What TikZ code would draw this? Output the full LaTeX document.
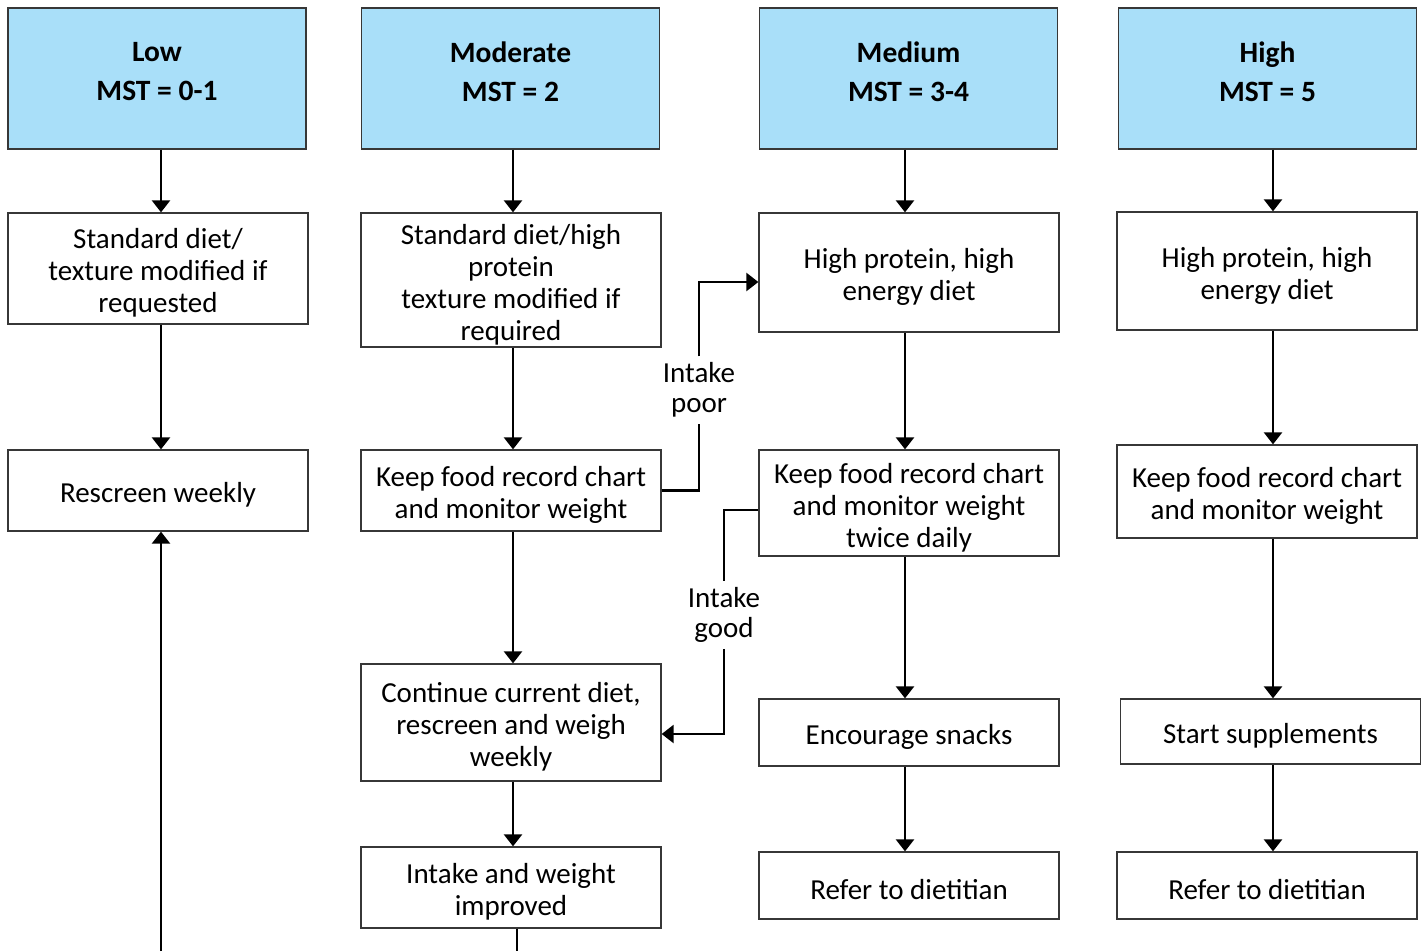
\documentclass[tikz,border=0pt]{standalone}
\usepackage{fontspec}
\setmainfont{Carlito}
\usetikzlibrary{arrows.meta}
\definecolor{hdrblue}{RGB}{169,223,249}
\definecolor{edgegray}{RGB}{55,55,55}
\newcommand{\tup}{\rule{0pt}{29pt}}
\tikzset{
  hdr/.style={draw=edgegray,line width=1.3pt,fill=hdrblue,minimum width=298pt,minimum height=141pt,inner sep=0pt},
  hdrtxt/.style={inner sep=0pt,align=center,font=\fontsize{29.5}{39}\selectfont\bfseries},
  box/.style={draw=edgegray,line width=1.3pt,fill=white,minimum width=300pt,
    inner sep=0pt,align=center,font=\fontsize{29}{32}\selectfont},
  lbl/.style={inner sep=5pt,align=center,font=\fontsize{29}{30}\selectfont}
}
\begin{document}
\begin{tikzpicture}[x=1pt,y=-1pt,line width=2.5pt,>={Stealth[inset=0pt,length=12pt,width=18pt]}]
\useasboundingbox (0,0) rectangle (1421,951);
% risk headers
\node[hdr] (h1) at (157,78.5) {};
\node[hdr] (h2) at (510.5,78.5) {};
\node[hdr] (h3) at (908.5,78.5) {};
\node[hdr] (h4) at (1267.5,78.5) {};
\node[hdrtxt] (h1t) at ([yshift=7pt]h1) {Low\\MST = 0-1};
\node[hdrtxt] (h2t) at ([yshift=7pt]h2) {Moderate\\MST = 2};
\node[hdrtxt] (h3t) at ([yshift=7pt]h3) {Medium\\MST = 3-4};
\node[hdrtxt] (h4t) at ([yshift=7pt]h4) {High\\MST = 5};
% low
\node[box,minimum height=111pt] (a1) at (158,268.5) {\tup Standard diet/\\texture modified if\\requested};
\node[box,minimum height=81pt] (r1) at (158,490.5) {\tup Rescreen weekly};
% moderate
\node[box,minimum height=134pt] (a2) at (511,280) {\tup Standard diet/high\\protein\\texture modified if\\required};
\node[box,minimum height=81pt] (k2) at (511,490.5) {\tup Keep food record chart\\and monitor weight};
\node[box,minimum height=117pt] (c2) at (511,722.5) {\tup Continue current diet,\\rescreen and weigh\\weekly};
\node[box,minimum height=81pt] (i2) at (511,887.5) {\tup Intake and weight\\improved};
% medium
\node[box,minimum height=119pt] (a3) at (909,272.5) {\tup High protein, high\\energy diet};
\node[box,minimum height=106pt] (k3) at (909,503) {\tup Keep food record chart\\and monitor weight\\twice daily};
\node[box,minimum height=67pt] (e3) at (909,732.5) {\tup Encourage snacks};
\node[box,minimum height=67pt] (d3) at (909,885.5) {\tup Refer to dietitian};
% high
\node[box,minimum height=118pt] (a4) at (1267,271) {\tup High protein, high\\energy diet};
\node[box,minimum height=93pt] (k4) at (1267,491.5) {\tup Keep food record chart\\and monitor weight};
\node[box,minimum height=65pt] (s4) at (1270.5,731.5) {\tup Start supplements};
\node[box,minimum height=67pt] (d4) at (1267,885.5) {\tup Refer to dietitian};
% branch labels
\node[lbl] (poor) at (699,390) {Intake\\poor};
\node[lbl] (good) at (724,615) {Intake\\good};
% arrow columns and loose ends at the lower edge
\coordinate (x1) at (161,0); \coordinate (x2) at (513,0);
\coordinate (x3) at (905,0); \coordinate (x4) at (1273,0);
\coordinate (bot1) at (x1 |- 0,951);
\coordinate (bot2) at (517,951);
% arrows
\draw[->] (h1.south -| x1) -- (a1.north -| x1); \draw[->] (a1.south -| x1) -- (r1.north -| x1);
\draw[->] (bot1) -- (r1.south -| x1);
\draw[->] (h2.south -| x2) -- (a2.north -| x2); \draw[->] (a2.south -| x2) -- (k2.north -| x2);
\draw[->] (k2.south -| x2) -- (c2.north -| x2); \draw[->] (c2.south -| x2) -- (i2.north -| x2);
\draw (i2.south -| bot2) -- (bot2);
\draw[->] (h3.south -| x3) -- (a3.north -| x3); \draw[->] (a3.south -| x3) -- (k3.north -| x3);
\draw[->] (k3.south -| x3) -- (e3.north -| x3); \draw[->] (e3.south -| x3) -- (d3.north -| x3);
\draw[->] (h4.south -| x4) -- (a4.north -| x4); \draw[->] (a4.south -| x4) -- (k4.north -| x4);
\draw[->] (k4.south -| x4) -- (s4.north -| x4); \draw[->] (s4.south -| x4) -- (d4.north -| x4);
\draw (k2.east) -| (poor.south); \draw[->] (poor.north) |- ([yshift=-9.5pt]a3.west);
\draw ([yshift=-7pt]k3.west) -| (good.north); \draw[->] (good.south) |- ([yshift=-11.5pt]c2.east);
\end{tikzpicture}
\end{document}
